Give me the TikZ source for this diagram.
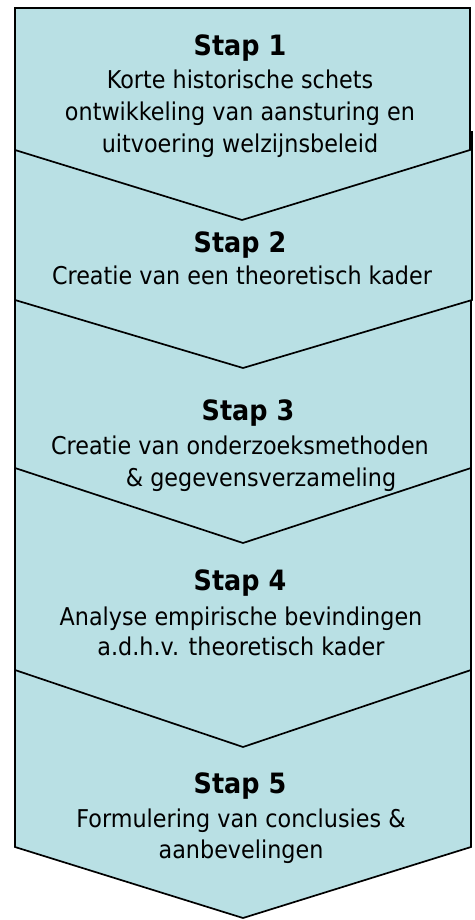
\documentclass[tikz,border=0pt]{standalone}
\usepackage{fontspec}
\setmainfont{DejaVu Sans}[FakeStretch=0.91]
\definecolor{stepfill}{RGB}{185,224,228}
\begin{document}
\begin{tikzpicture}[x=1pt,y=-1pt,
  chev/.style={draw=black,fill=stepfill,line width=1.7pt,line join=miter},
  ttl/.style={anchor=base,inner sep=0pt,font=\fontsize{28}{32}\selectfont\bfseries},
  body/.style={anchor=base,inner sep=0pt,font=\fontsize{24.5}{30}\selectfont}]
\useasboundingbox (0,0) rectangle (474,920);
% shapes, drawn from last to first so each earlier one lies on top
\draw[chev] (15,660) -- (471,660) -- (471,847) -- (243,918) -- (15,847) -- cycle;
\draw[chev] (15,460) -- (471,460) -- (471,670) -- (243,747) -- (15,670) -- cycle;
\draw[chev] (15,290) -- (471,290) -- (471,468) -- (243,543) -- (15,468) -- cycle;
\draw[chev] (15,132) -- (472,132) -- (472,300) -- (243,368) -- (15,300) -- cycle;
\draw[chev] (15,8) -- (470,8) -- (470,150) -- (242,220) -- (15,150) -- cycle;
% Stap 1
\node[ttl]  (s1t) at (240,56)  {Stap 1};
\node[body] (s1a) at (240,89)  {Korte historische schets};
\node[body] (s1b) at (240,121) {ontwikkeling van aansturing en};
\node[body] (s1c) at (240,153) {uitvoering welzijnsbeleid};
% Stap 2
\node[ttl]  (s2t) at (240,252) {Stap 2};
\node[body] (s2a) at (242,284) {Creatie van een theoretisch kader};
% Stap 3
\node[ttl]  (s3t) at (248,420) {Stap 3};
\node[body] (s3a) at (240,454) {Creatie van onderzoeksmethoden};
\node[body] (s3b) at (261,486) {\& gegevensverzameling};
% Stap 4
\node[ttl]  (s4t) at (240,590) {Stap 4};
\node[body] (s4a) at (241,625) {Analyse empirische bevindingen};
\node[body] (s4b) at (241,655) {a.d.h.v. theoretisch kader};
% Stap 5
\node[ttl]  (s5t) at (240,793) {Stap 5};
\node[body] (s5a) at (241,827) {Formulering van conclusies \&};
\node[body] (s5b) at (241,858) {aanbevelingen};
\end{tikzpicture}
\end{document}
